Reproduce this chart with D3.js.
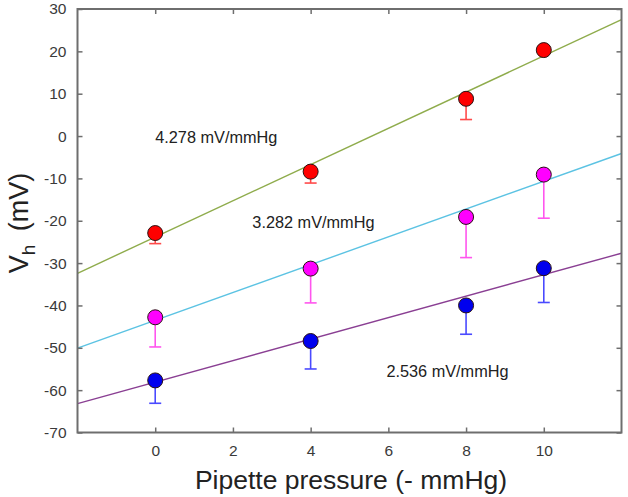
<!DOCTYPE html>
<html><head><meta charset="utf-8">
<script src="https://cdn.jsdelivr.net/npm/d3@7"></script>
<style>
html,body{margin:0;padding:0;background:#fff;}
svg{display:block;font-family:"Liberation Sans",Arial,sans-serif;}
</style></head>
<body><svg id="c" width="628" height="497"></svg>
<script>
// ---- data ----
const pressures = [0, 4, 8, 10];
const seriesNames = ["red", "magenta", "blue"];
const redVh = [-22.9, -8.4, 8.8, 20.3];
const redErr = [2.5, 2.7, 4.9, 0];
const magentaVh = [-42.8, -31.3, -19.1, -9.1];
const magentaErr = [7.0, 8.1, 9.6, 10.3];
const blueVh = [-57.7, -48.4, -40.0, -31.2];
const blueErr = [5.4, 6.6, 6.8, 8.1];
const fitSlopes = [4.278, 3.282, 2.536];
const fitIntercepts = [-23.85, -43.5, -58.1];
const fitLabels = ["4.278 mV/mmHg", "3.282 mV/mmHg", "2.536 mV/mmHg"];
const xTicks = [0, 2, 4, 6, 8, 10];
const yTicks = [30, 20, 10, 0, -10, -20, -30, -40, -50, -60, -70];

// ---- layout ----
const svg = d3.select("#c");
const L = 77.5, R = 621.5, T = 9, B = 432.5;
const x = d3.scaleLinear().domain([-2, 12]).range([L, R]);
const y = d3.scaleLinear().domain([-70, 30]).range([B, T]);
const axisCol = "#6e6e6e";
const fmt = d => String(d);

const series = [
  {vals: redVh, err: redErr, fill: "#ff0000", errCol: "#ff4a4a", line: "#8fac4c"},
  {vals: magentaVh, err: magentaErr, fill: "#ff00ff", errCol: "#ff55ee", line: "#5cc3e3"},
  {vals: blueVh, err: blueErr, fill: "#0000ee", errCol: "#4a4aff", line: "#8a3f93"}
];

// fit lines
svg.append("clipPath").attr("id","cp").append("rect")
  .attr("x", L).attr("y", T).attr("width", R - L).attr("height", B - T);
const gLines = svg.append("g").attr("clip-path","url(#cp)");
const xd = x.domain();
series.forEach((s, i) => {
  const pts = xd.map(v => [x(v), y(fitIntercepts[i] + fitSlopes[i] * v)]);
  gLines.append("path").attr("d", d3.line()(pts))
    .attr("fill","none").attr("stroke", s.line).attr("stroke-width", 1.4);
});

// axes (box with inward ticks)
function tickAxis(axisGen, tx, ty) {
  const g = svg.append("g").attr("transform", `translate(${tx},${ty})`).call(axisGen);
  g.select(".domain").remove();
  g.selectAll(".tick line").attr("stroke", axisCol).attr("stroke-width", 1.5);
  return g;
}
const gx = tickAxis(d3.axisBottom(x).tickValues(xTicks).tickFormat(fmt).tickSizeInner(-5).tickSizeOuter(0).tickPadding(12), 0, B);
gx.selectAll("text").attr("font-size", 15.5).attr("fill", "#3a3a3a").attr("font-family", "Liberation Sans, Arial, sans-serif");
tickAxis(d3.axisTop(x).tickValues(xTicks).tickSizeInner(-5).tickSizeOuter(0).tickFormat(""), 0, T);
const gy = tickAxis(d3.axisLeft(y).tickValues(yTicks).tickFormat(fmt).tickSizeInner(-5).tickSizeOuter(0).tickPadding(11), L, 0);
gy.selectAll("text").attr("font-size", 15.5).attr("fill", "#3a3a3a").attr("font-family", "Liberation Sans, Arial, sans-serif");
tickAxis(d3.axisRight(y).tickValues(yTicks).tickSizeInner(-5).tickSizeOuter(0).tickFormat(""), R, 0);
svg.append("rect").attr("x", L).attr("y", T).attr("width", R - L).attr("height", B - T)
  .attr("fill","none").attr("stroke", axisCol).attr("stroke-width", 2);

// error bars (downward) and markers
series.forEach(s => {
  const g = svg.append("g");
  pressures.forEach((p, j) => {
    if (s.err[j] > 0) {
      const y0 = y(s.vals[j]), y1 = y(s.vals[j] - s.err[j]);
      g.append("line").attr("x1", x(p)).attr("x2", x(p)).attr("y1", y0).attr("y2", y1)
        .attr("stroke", s.errCol).attr("stroke-width", 1.6);
      g.append("line").attr("x1", x(p) - 6).attr("x2", x(p) + 6).attr("y1", y1).attr("y2", y1)
        .attr("stroke", s.errCol).attr("stroke-width", 1.6);
    }
  });
  g.selectAll("circle").data(pressures).join("circle")
    .attr("cx", p => x(p)).attr("cy", (p, j) => y(s.vals[j])).attr("r", 7.5)
    .attr("fill", s.fill).attr("stroke", "#2a1212").attr("stroke-width", 1);
});

// slope labels
const labelPos = [[0, -1.7], [2.5, -21.8], [5.95, -57.0]];
fitLabels.forEach((t, i) => {
  svg.append("text").attr("x", x(labelPos[i][0])).attr("y", y(labelPos[i][1]))
    .attr("font-size", 16.3).attr("fill", "#222").text(t);
});

// axis titles
svg.append("text").attr("x", 351).attr("y", 489).attr("text-anchor","middle")
  .attr("font-size", 26.5).attr("fill", "#222").text("Pipette pressure (- mmHg)");
const yt = svg.append("text").attr("transform", "translate(28,223) rotate(-90)")
  .attr("text-anchor","middle").attr("font-size", 27).attr("fill", "#222");
yt.append("tspan").text("V");
yt.append("tspan").attr("dy", 7).attr("font-size", 19).text("h");
yt.append("tspan").attr("dy", -7).text("\u2002(mV)");
</script></body></html>
